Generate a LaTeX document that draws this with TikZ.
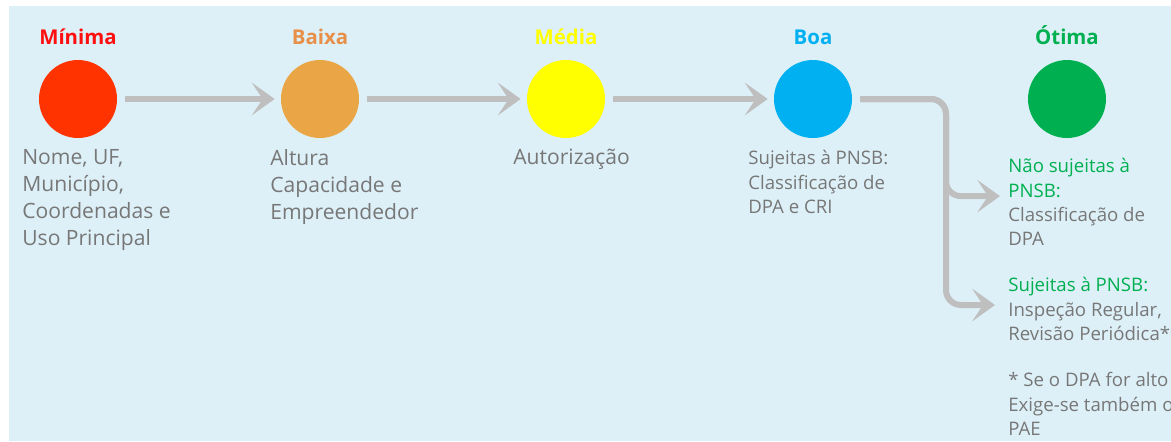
\documentclass[tikz,border=0pt]{standalone}
\usepackage{fontspec}
\setmainfont{Open Sans}
\usetikzlibrary{arrows.meta,positioning}
\definecolor{bgColor}{HTML}{DDF0F8}
\definecolor{txtColor}{HTML}{777777}
\definecolor{flowColor}{HTML}{BFBFBF}
\definecolor{minColor}{HTML}{FF3300}
\definecolor{minLabColor}{HTML}{FF1010}
\definecolor{baiColor}{HTML}{EAA546}
\definecolor{baiLabColor}{HTML}{E8904A}
\definecolor{medColor}{HTML}{FFFF00}
\definecolor{boaColor}{HTML}{00B0F0}
\definecolor{otiColor}{HTML}{00B050}
\newcommand{\bigtxt}{\fontsize{12}{15.4}\selectfont}
\newcommand{\smalltxt}{\fontsize{10.6}{13.9}\selectfont}

\begin{document}
\begin{tikzpicture}[x=0.02cm, y=-0.02cm,
		level/.style={circle, minimum size=1.56cm, inner sep=0},
		lev lab/.style={font=\fontsize{11.6}{14}\selectfont\bfseries, label distance=0.17cm},
		desc/.style={anchor=north west, align=left, inner sep=0, text=txtColor, font=\bigtxt},
		small desc/.style={desc, font=\smalltxt},
		flow/.style={draw=flowColor, line width=0.12cm, rounded corners=0.3cm,
			-{Stealth[length=0.46cm, width=0.66cm, inset=0.22cm, line width=0pt]}}]
	\fill[bgColor] (9,6) rectangle (1171,441);
	\useasboundingbox (0,0) rectangle (1171,441);
	
	\node[level, fill=minColor, label={[lev lab, text=minLabColor]90:Mínima}] (minima) at (78,99) {};
	\node[level, fill=baiColor, label={[lev lab, text=baiLabColor]90:Baixa}] (baixa) at (320,99) {};
	\node[level, fill=medColor, label={[lev lab, text=medColor]90:Média}] (media) at (566,99) {};
	\node[level, fill=boaColor, label={[lev lab, text=boaColor]90:Boa}] (boa) at (813,99) {};
	\node[level, fill=otiColor, label={[lev lab, text=otiColor]90:Ótima}] (otima) at (1067,99) {};
	
	\node[desc] (minTxt) at (22,149) {Nome, UF,\\Município,\\Coordenadas e\\Uso Principal};
	\node[desc] (baiTxt) at (270,149) {Altura\\Capacidade e\\Empreendedor};
	\node[desc] (medTxt) at (513,149) {Autorização};
	\node[small desc] (boaTxt) at (748,150) {Sujeitas à PNSB:\\Classificação de\\DPA e CRI};
	\node[small desc] (naoTxt) at (1008,158) {\textcolor{otiColor}{Não sujeitas à}\\\textcolor{otiColor}{PNSB:}\\Classificação de\\DPA};
	\node[small desc] (sujTxt) at (1008,277) {\textcolor{otiColor}{Sujeitas à PNSB:}\\Inspeção Regular,\\Revisão Periódica*};
	\node[small desc] (notaTxt) at (1008,372) {* Se o DPA for alto\\Exige-se também o\\PAE};
	
	\coordinate (split) at (946,99);
	\path[flow, shorten <=0.16cm, shorten >=0.12cm] (minima) -- (baixa);
	\path[flow, shorten <=0.16cm, shorten >=0.12cm] (baixa) -- (media);
	\path[flow, shorten <=0.16cm, shorten >=0.12cm] (media) -- (boa);
	\path[flow, shorten <=0.16cm, shorten >=0.16cm] (boa.east) -- (split) |- ([yshift=0.12cm]naoTxt.west);
	\path[flow, shorten <=0.16cm, shorten >=0.26cm] (boa.east) -- (split) |- ([yshift=0.08cm]sujTxt.west);
\end{tikzpicture}
\end{document}
